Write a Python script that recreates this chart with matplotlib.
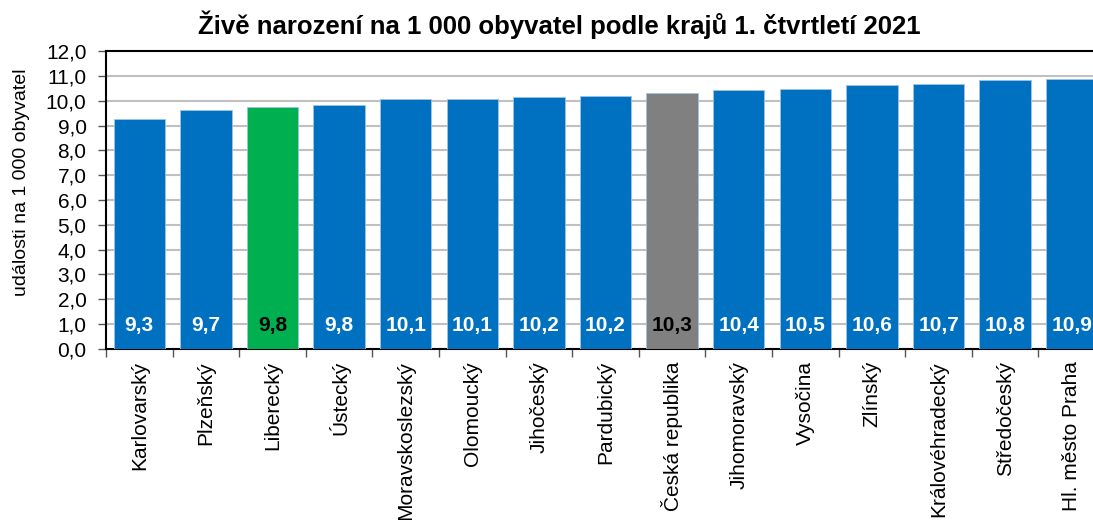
import matplotlib
matplotlib.use("Agg")
import matplotlib.pyplot as plt
import numpy as np

categories = ["Karlovarský", "Plzeňský", "Liberecký", "Ústecký", "Moravskoslezský",
              "Olomoucký", "Jihočeský", "Pardubický", "Česká republika", "Jihomoravský",
              "Vysočina", "Zlínský", "Královéhradecký", "Středočeský", "Hl. město Praha"]
values = [9.27, 9.65, 9.76, 9.83, 10.06, 10.09, 10.16, 10.18, 10.33, 10.42,
          10.47, 10.63, 10.70, 10.83, 10.87]
highlight = {"Liberecký": "#00B050", "Česká republika": "#808080"}
base_color = "#0070C0"
yticks = np.arange(0, 13, 1)

plt.rcParams['font.family'] = ['Liberation Sans', 'DejaVu Sans']

fig = plt.figure(figsize=(10.93, 5.2), dpi=100)
ax = fig.add_axes([106/1093, 1-348.7/520, 999/1093, (348.7-51.3)/520])

x = np.arange(len(categories))
colors = [highlight.get(c, base_color) for c in categories]
ax.bar(x, values, width=0.77, color=colors, edgecolor="#9dc3e6", linewidth=0.6, zorder=3)

for xi, v, c in zip(x, values, categories):
    tc = "black" if c in highlight else "white"
    ax.text(xi, 0.93, f"{v:.1f}".replace(".", ","), ha="center", va="center",
            color=tc, fontsize=15, fontweight="bold", zorder=4)

ax.set_xlim(-0.5, len(categories) - 0.5)
ax.set_ylim(0, 12)
ax.set_yticks(yticks)
ax.set_yticklabels([f"{t:.1f}".replace(".", ",") for t in yticks], fontsize=15)
ax.yaxis.grid(True, color="#c0c0c0", linewidth=1.5, zorder=0)
ax.set_axisbelow(True)

ax.set_xticks(x)
ax.set_xticklabels(categories, rotation=90, fontsize=15, va="top")
ax.tick_params(axis="x", which="major", length=0, pad=9)
ax.set_xticks(np.arange(-0.5, len(categories), 1), minor=True)
ax.tick_params(axis="x", which="minor", length=6, width=1, color="#555555", direction="out")
ax.tick_params(axis="y", length=6, width=1, color="#555555", direction="out", pad=8)

for s in ["left", "bottom", "top", "right"]:
    ax.spines[s].set_color("black")
    ax.spines[s].set_linewidth(1.5)

fig.text(559.5/1093, 1-25/520, "Živě narození na 1 000 obyvatel podle krajů 1. čtvrtletí 2021",
         ha="center", va="center", fontsize=18.5, fontweight="bold")
fig.text(22/1093, 1-182/520, "události na 1 000 obyvatel", rotation=90,
         ha="center", va="center", fontsize=14)

fig.savefig("out.png", dpi=100)
